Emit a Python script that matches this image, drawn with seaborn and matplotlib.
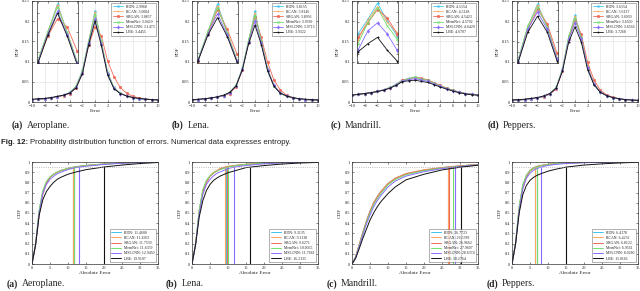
import numpy as np
import pandas as pd
import matplotlib
matplotlib.use("Agg")
import matplotlib.pyplot as plt
import seaborn as sns

sns.set_style("ticks")
plt.rcParams['font.family'] = ['Liberation Serif', 'DejaVu Serif']

# ---- data ----
methods = ['RDN', 'RCAN', 'SRGAN', 'MemNet', 'MSLCNN', 'LBE']
colors = ['#3fc6ee', '#ffa860', '#ee6a5a', '#70dd70', '#8a6cff', '#111111']
markers = ['*', '+', 'o', 'x', 'd', '.']
images = ['Aeroplane.', 'Lena.', 'Mandrill.', 'Peppers.']
letters = ['(a)', '(b)', '(c)', '(d)']

errors = list(range(-10, 11))

pdf_aeroplane = [
    [0.006, 0.007, 0.008, 0.010, 0.013, 0.017, 0.023, 0.038, 0.076, 0.150, 0.225, 0.148, 0.072, 0.035, 0.022, 0.015, 0.011, 0.008, 0.007, 0.006, 0.005],
    [0.006, 0.007, 0.008, 0.010, 0.013, 0.017, 0.023, 0.038, 0.076, 0.150, 0.222, 0.149, 0.073, 0.036, 0.022, 0.015, 0.011, 0.008, 0.007, 0.006, 0.005],
    [0.006, 0.007, 0.008, 0.010, 0.012, 0.016, 0.021, 0.035, 0.072, 0.140, 0.186, 0.164, 0.102, 0.063, 0.036, 0.022, 0.014, 0.010, 0.008, 0.006, 0.005],
    [0.006, 0.007, 0.008, 0.010, 0.013, 0.017, 0.024, 0.040, 0.078, 0.152, 0.217, 0.150, 0.074, 0.036, 0.022, 0.015, 0.011, 0.008, 0.007, 0.006, 0.005],
    [0.006, 0.007, 0.008, 0.010, 0.013, 0.017, 0.023, 0.037, 0.073, 0.146, 0.205, 0.144, 0.070, 0.034, 0.021, 0.015, 0.011, 0.008, 0.007, 0.006, 0.005],
    [0.007, 0.008, 0.009, 0.011, 0.014, 0.017, 0.022, 0.035, 0.070, 0.142, 0.200, 0.140, 0.067, 0.033, 0.021, 0.015, 0.011, 0.009, 0.007, 0.006, 0.005],
]
pdf_lena = [
    [0.005, 0.006, 0.008, 0.010, 0.012, 0.016, 0.023, 0.040, 0.082, 0.152, 0.225, 0.150, 0.080, 0.040, 0.022, 0.014, 0.010, 0.008, 0.006, 0.005, 0.005],
    [0.005, 0.006, 0.008, 0.010, 0.012, 0.016, 0.023, 0.040, 0.082, 0.152, 0.220, 0.152, 0.082, 0.041, 0.022, 0.014, 0.010, 0.008, 0.006, 0.005, 0.005],
    [0.005, 0.006, 0.008, 0.010, 0.012, 0.015, 0.021, 0.038, 0.080, 0.148, 0.210, 0.160, 0.098, 0.055, 0.030, 0.017, 0.011, 0.008, 0.006, 0.005, 0.005],
    [0.005, 0.006, 0.008, 0.010, 0.012, 0.016, 0.024, 0.042, 0.084, 0.155, 0.215, 0.152, 0.082, 0.040, 0.022, 0.014, 0.010, 0.008, 0.006, 0.005, 0.005],
    [0.005, 0.006, 0.008, 0.010, 0.012, 0.016, 0.023, 0.040, 0.082, 0.148, 0.200, 0.146, 0.080, 0.041, 0.023, 0.015, 0.010, 0.008, 0.006, 0.005, 0.005],
    [0.006, 0.007, 0.008, 0.010, 0.013, 0.017, 0.024, 0.040, 0.080, 0.145, 0.190, 0.142, 0.077, 0.039, 0.022, 0.015, 0.011, 0.008, 0.007, 0.006, 0.005],
]
pdf_mandrill = [
    [0.017, 0.019, 0.021, 0.023, 0.026, 0.030, 0.036, 0.044, 0.0548, 0.0582, 0.0620, 0.0578, 0.0544, 0.047, 0.040, 0.034, 0.029, 0.024, 0.021, 0.019, 0.017],
    [0.017, 0.019, 0.021, 0.023, 0.026, 0.030, 0.036, 0.043, 0.0533, 0.0580, 0.0612, 0.0575, 0.0552, 0.048, 0.041, 0.034, 0.029, 0.024, 0.021, 0.019, 0.017],
    [0.017, 0.019, 0.021, 0.023, 0.026, 0.030, 0.035, 0.043, 0.0540, 0.0574, 0.0605, 0.0586, 0.0548, 0.048, 0.041, 0.035, 0.029, 0.025, 0.021, 0.019, 0.017],
    [0.017, 0.019, 0.021, 0.023, 0.026, 0.030, 0.036, 0.043, 0.0525, 0.0574, 0.0609, 0.0567, 0.0536, 0.047, 0.040, 0.034, 0.029, 0.024, 0.021, 0.019, 0.017],
    [0.017, 0.019, 0.021, 0.023, 0.026, 0.030, 0.035, 0.042, 0.0510, 0.0555, 0.0574, 0.0548, 0.0510, 0.045, 0.039, 0.033, 0.028, 0.024, 0.021, 0.019, 0.017],
    [0.017, 0.019, 0.021, 0.023, 0.026, 0.029, 0.034, 0.041, 0.0506, 0.0525, 0.0540, 0.0510, 0.0485, 0.043, 0.037, 0.032, 0.027, 0.023, 0.020, 0.018, 0.017],
]
pdf_peppers = [
    [0.004, 0.005, 0.006, 0.008, 0.010, 0.014, 0.020, 0.034, 0.080, 0.160, 0.215, 0.160, 0.086, 0.045, 0.025, 0.016, 0.011, 0.008, 0.006, 0.005, 0.004],
    [0.004, 0.005, 0.006, 0.008, 0.010, 0.014, 0.020, 0.034, 0.080, 0.160, 0.212, 0.162, 0.088, 0.046, 0.025, 0.016, 0.011, 0.008, 0.006, 0.005, 0.004],
    [0.004, 0.005, 0.006, 0.008, 0.010, 0.013, 0.019, 0.032, 0.076, 0.155, 0.202, 0.168, 0.098, 0.055, 0.030, 0.018, 0.012, 0.008, 0.006, 0.005, 0.004],
    [0.004, 0.005, 0.006, 0.008, 0.010, 0.014, 0.021, 0.036, 0.082, 0.163, 0.207, 0.160, 0.086, 0.045, 0.025, 0.016, 0.011, 0.008, 0.006, 0.005, 0.004],
    [0.004, 0.005, 0.006, 0.008, 0.010, 0.014, 0.020, 0.034, 0.078, 0.155, 0.196, 0.155, 0.085, 0.045, 0.025, 0.016, 0.011, 0.008, 0.006, 0.005, 0.004],
    [0.005, 0.006, 0.007, 0.009, 0.011, 0.015, 0.021, 0.034, 0.076, 0.148, 0.186, 0.148, 0.080, 0.043, 0.024, 0.016, 0.011, 0.008, 0.006, 0.005, 0.004],
]

entropy_aeroplane = [2.9968, 3.0004, 3.0857, 3.0429, 3.1473, 3.4455]
entropy_lena = [3.8155, 3.8146, 3.8956, 3.9330, 3.9713, 3.9322]
entropy_mandrill = [4.5154, 4.5148, 4.5423, 4.5702, 4.6429, 4.6707]
entropy_peppers = [3.6154, 3.6137, 3.6930, 3.6500, 3.6566, 3.7268]

inset_ylims = [(0.07, 0.232), (0.075, 0.232), (0.048, 0.0625), (0.075, 0.222)]

abs_err = [0, 1, 2, 3, 4, 5, 6, 7, 8, 10, 12, 15, 20, 25, 30, 35]

cdf_aeroplane = [
    [0, 0.20, 0.52, 0.71, 0.80, 0.85, 0.88, 0.90, 0.917, 0.938, 0.953, 0.966, 0.980, 0.990, 0.996, 1.0],
    [0, 0.20, 0.52, 0.71, 0.80, 0.85, 0.88, 0.90, 0.917, 0.938, 0.952, 0.966, 0.980, 0.990, 0.996, 1.0],
    [0, 0.18, 0.48, 0.68, 0.79, 0.85, 0.88, 0.90, 0.915, 0.936, 0.951, 0.966, 0.980, 0.990, 0.996, 1.0],
    [0, 0.20, 0.53, 0.72, 0.81, 0.855, 0.88, 0.90, 0.916, 0.937, 0.951, 0.966, 0.980, 0.990, 0.996, 1.0],
    [0, 0.19, 0.50, 0.69, 0.78, 0.83, 0.86, 0.885, 0.90, 0.925, 0.945, 0.958, 0.976, 0.988, 0.995, 1.0],
    [0, 0.19, 0.48, 0.63, 0.71, 0.76, 0.80, 0.83, 0.85, 0.88, 0.90, 0.925, 0.951, 0.970, 0.985, 0.995],
]
cdf_lena = [
    [0, 0.20, 0.52, 0.72, 0.81, 0.86, 0.895, 0.915, 0.938, 0.956, 0.966, 0.977, 0.989, 0.995, 0.998, 1.0],
    [0, 0.20, 0.52, 0.72, 0.81, 0.865, 0.90, 0.92, 0.940, 0.958, 0.967, 0.978, 0.989, 0.995, 0.998, 1.0],
    [0, 0.19, 0.50, 0.70, 0.80, 0.86, 0.89, 0.912, 0.934, 0.954, 0.965, 0.977, 0.989, 0.995, 0.998, 1.0],
    [0, 0.20, 0.53, 0.73, 0.82, 0.865, 0.895, 0.913, 0.927, 0.950, 0.963, 0.976, 0.988, 0.995, 0.998, 1.0],
    [0, 0.19, 0.49, 0.68, 0.78, 0.83, 0.865, 0.89, 0.905, 0.935, 0.952, 0.965, 0.982, 0.992, 0.997, 1.0],
    [0, 0.19, 0.46, 0.62, 0.72, 0.78, 0.82, 0.845, 0.865, 0.895, 0.915, 0.945, 0.965, 0.980, 0.990, 0.996],
]
cdf_mandrill = [
    [0, 0.07, 0.19, 0.31, 0.42, 0.52, 0.60, 0.66, 0.71, 0.79, 0.84, 0.885, 0.922, 0.945, 0.962, 0.975],
    [0, 0.07, 0.19, 0.31, 0.42, 0.52, 0.60, 0.66, 0.71, 0.79, 0.842, 0.887, 0.924, 0.946, 0.963, 0.975],
    [0, 0.07, 0.19, 0.31, 0.42, 0.515, 0.595, 0.655, 0.705, 0.785, 0.837, 0.883, 0.920, 0.944, 0.962, 0.975],
    [0, 0.065, 0.18, 0.30, 0.41, 0.50, 0.58, 0.64, 0.69, 0.775, 0.828, 0.875, 0.915, 0.940, 0.958, 0.973],
    [0, 0.06, 0.17, 0.28, 0.39, 0.48, 0.56, 0.62, 0.67, 0.755, 0.812, 0.862, 0.905, 0.935, 0.955, 0.971],
    [0, 0.055, 0.15, 0.25, 0.34, 0.43, 0.50, 0.56, 0.61, 0.69, 0.755, 0.825, 0.880, 0.922, 0.949, 0.968],
]
cdf_peppers = [
    [0, 0.21, 0.56, 0.77, 0.87, 0.92, 0.945, 0.958, 0.966, 0.977, 0.984, 0.990, 0.995, 0.998, 0.999, 1.0],
    [0, 0.21, 0.56, 0.77, 0.87, 0.92, 0.944, 0.957, 0.966, 0.977, 0.984, 0.990, 0.995, 0.998, 0.999, 1.0],
    [0, 0.19, 0.52, 0.74, 0.85, 0.91, 0.937, 0.956, 0.965, 0.977, 0.984, 0.990, 0.995, 0.998, 0.999, 1.0],
    [0, 0.21, 0.57, 0.78, 0.87, 0.915, 0.937, 0.952, 0.962, 0.975, 0.983, 0.989, 0.995, 0.998, 0.999, 1.0],
    [0, 0.20, 0.53, 0.74, 0.84, 0.89, 0.92, 0.938, 0.950, 0.966, 0.976, 0.985, 0.993, 0.997, 0.999, 1.0],
    [0, 0.20, 0.50, 0.68, 0.77, 0.82, 0.85, 0.87, 0.885, 0.91, 0.928, 0.950, 0.970, 0.982, 0.991, 0.997],
]

thr_aeroplane = [11.4600, 11.4963, 11.7539, 11.6339, 12.9450, 19.9107]
thr_lena = [9.3135, 9.1138, 9.6271, 10.0065, 11.7661, 16.2135]
thr_mandrill = [26.7723, 26.5789, 26.9662, 27.9607, 28.6374, 30.2764]
thr_peppers = [6.4178, 6.4232, 6.8122, 6.9561, 8.0280, 15.0161]

pdfs = [pdf_aeroplane, pdf_lena, pdf_mandrill, pdf_peppers]
entropies = [entropy_aeroplane, entropy_lena, entropy_mandrill, entropy_peppers]
cdfs = [cdf_aeroplane, cdf_lena, cdf_mandrill, cdf_peppers]
thresholds = [thr_aeroplane, thr_lena, thr_mandrill, thr_peppers]

# ---- figure ----
W, H = 640, 291
fig = plt.figure(figsize=(6.4, 2.91), dpi=100)
lefts = [32, 192, 352, 512]
axw = 126


def style_axes(ax):
    ax.tick_params(direction='in', length=1.5, width=0.4, labelsize=3.2, pad=1.5,
                   top=True, right=True)
    for s in ax.spines.values():
        s.set_linewidth(0.5)
        s.set_color('#333333')


for i in range(4):
    # PDF row
    ax = fig.add_axes([lefts[i] / W, 1 - 102 / H, axw / W, 101 / H])
    for m in range(6):
        lab = '%s: %.4f' % (methods[m], entropies[i][m])
        sns.lineplot(x=errors, y=pdfs[i][m], ax=ax, color=colors[m], marker=markers[m],
                     markersize=1.8, markeredgewidth=0.4, markeredgecolor=colors[m],
                     linewidth=0.6, label=lab)
    ax.set_xlim(-10, 10)
    ax.set_ylim(0, 0.25)
    ax.set_xticks(range(-10, 11, 2))
    ax.set_yticks([0, 0.05, 0.1, 0.15, 0.2, 0.25])
    ax.set_yticklabels(['0', '0.05', '0.1', '0.15', '0.2', '0.25'])
    ax.grid(True, color='#dddddd', linewidth=0.4)
    ax.set_xlabel('Error', fontsize=3.8, labelpad=1)
    ax.set_ylabel('PDF', fontsize=3.8, labelpad=2)
    style_axes(ax)
    leg = ax.legend(loc='upper right', fontsize=2.8, handlelength=2.5, borderpad=0.4,
                    labelspacing=0.3, frameon=True, fancybox=False, borderaxespad=0.5)
    leg.get_frame().set_linewidth(0.4)
    leg.get_frame().set_edgecolor('#555555')

    ins = ax.inset_axes([0.04, 0.386, 0.325, 0.614])
    for m in range(6):
        sns.lineplot(x=errors, y=pdfs[i][m], ax=ins, color=colors[m], marker=markers[m],
                     markersize=1.8, markeredgewidth=0.4, markeredgecolor=colors[m],
                     linewidth=0.6, legend=False)
    ins.set_xlim(-2.1, 2.1)
    ins.set_ylim(*inset_ylims[i])
    ins.set_xlabel('')
    ins.set_ylabel('')
    ins.set_xticks(range(-2, 3))
    ins.set_xticklabels([])
    ins.set_yticklabels([])
    ins.set_facecolor('white')
    style_axes(ins)

    # CDF row
    bx = fig.add_axes([lefts[i] / W, 1 - 264 / H, axw / W, 102 / H])
    for m in range(6):
        lab = '%s: %.4f' % (methods[m], thresholds[i][m])
        sns.lineplot(x=abs_err, y=cdfs[i][m], ax=bx, color=colors[m], linewidth=0.7, label=lab)
        bx.plot([thresholds[i][m], thresholds[i][m]], [0, 0.95], color=colors[m], linewidth=0.8)
    bx.axhline(0.95, color='#aaaaaa', linestyle=':', linewidth=0.6)
    bx.set_xlim(0, 35)
    bx.set_ylim(0, 1)
    bx.set_xticks(range(0, 36, 5))
    bx.set_yticks(np.arange(0, 1.01, 0.1))
    bx.set_yticklabels(['0'] + ['%.1f' % v for v in np.arange(0.1, 0.95, 0.1)] + ['1'])
    bx.set_xlabel('Absolute Error', fontsize=3.8, labelpad=1)
    bx.set_ylabel('CDF', fontsize=3.8, labelpad=2)
    style_axes(bx)
    leg = bx.legend(loc='lower right', fontsize=2.8, handlelength=2.5, borderpad=0.4,
                    labelspacing=0.3, frameon=True, fancybox=False, borderaxespad=0.5)
    leg.get_frame().set_linewidth(0.4)
    leg.get_frame().set_edgecolor('#555555')

# captions
top_caps_x = [12, 172, 331, 488]
bot_caps_x = [7, 166, 327, 487]
for i in range(4):
    for cx, cy in [(top_caps_x[i], 125), (bot_caps_x[i], 284)]:
        t = fig.text(cx / W, 1 - cy / H, letters[i], fontsize=7, fontweight='bold',
                     va='center', ha='left')
        fig.axes[0].annotate(images[i], xy=(1, 0.5), xycoords=t, xytext=(2.5, 0),
                             textcoords='offset points', fontsize=7, va='center', ha='left',
                             annotation_clip=False)

t = fig.text(1 / W, 1 - 143 / H, 'Fig. 12:', fontsize=5.6, fontweight='bold',
             family='Liberation Sans', va='center', ha='left', color='#222222')
fig.axes[0].annotate('Probability distribution function of errors. Numerical data expresses entropy.',
                     xy=(1, 0.5), xycoords=t, xytext=(1.5, 0), textcoords='offset points',
                     fontsize=5.6, family='Liberation Sans', va='center', ha='left',
                     color='#222222', annotation_clip=False)

fig.savefig('out.png', dpi=100)
